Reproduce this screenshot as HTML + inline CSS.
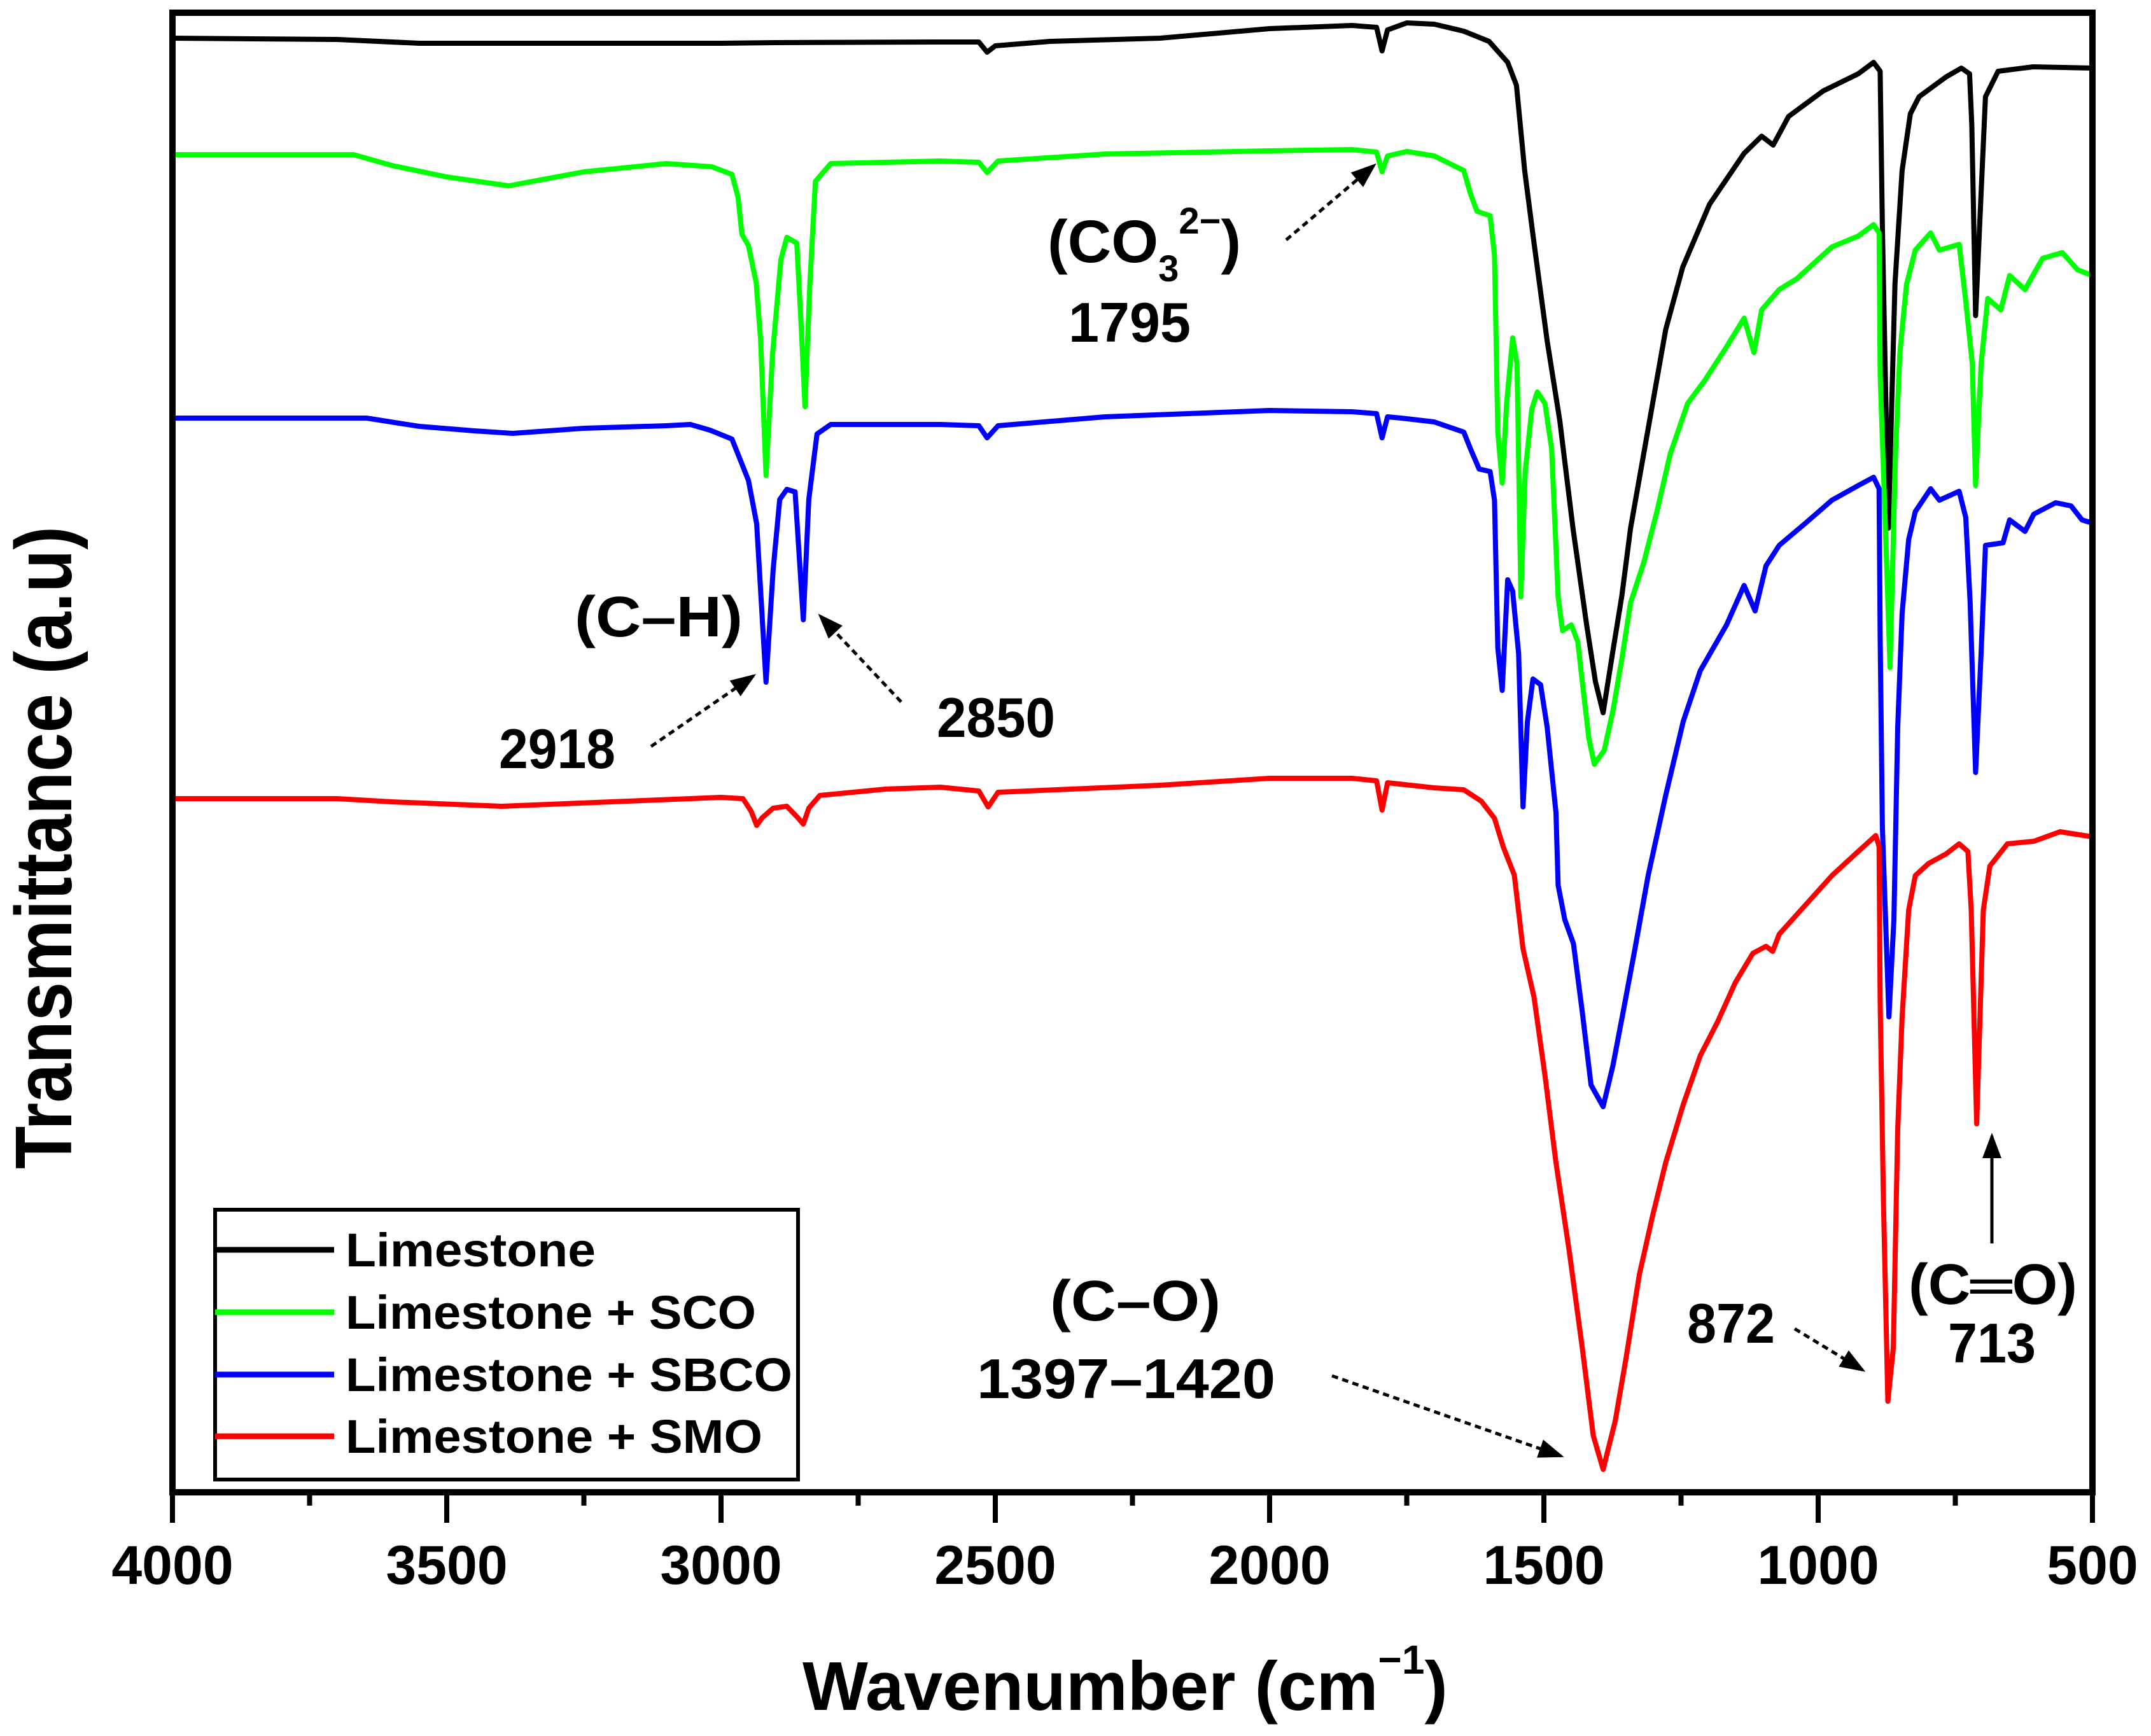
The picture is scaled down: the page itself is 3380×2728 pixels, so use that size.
<!DOCTYPE html>
<html><head><meta charset="utf-8"><style>
html,body{margin:0;padding:0;background:#fff;}
svg{display:block;}
text{font-family:"Liberation Sans",Arial,sans-serif;font-weight:bold;fill:#000;}
</style></head><body>
<svg id="chart" width="3380" height="2728" viewBox="0 0 3380 2728" xmlns="http://www.w3.org/2000/svg">
<defs>
<marker id="ah" markerWidth="8" markerHeight="6" refX="7" refY="3" orient="auto" markerUnits="strokeWidth"><path d="M0,0 L8,3 L0,6 Z" fill="#000"/></marker>
</defs>
<g id="series"></g>
<g id="axes"></g>
<g>
<text x="1646" y="412" font-size="95">(CO<tspan font-size="58" dy="30">3</tspan><tspan font-size="58" dy="-75">2−</tspan><tspan dy="45">)</tspan></text>
<text x="1679" y="537" font-size="88" textLength="192" lengthAdjust="spacingAndGlyphs">1795</text>
<line x1="2021" y1="377" x2="2159" y2="260" stroke="#000" stroke-width="5" stroke-dasharray="10,7" marker-end="url(#ah)"/>
<text x="903" y="1000" font-size="90" textLength="264" lengthAdjust="spacingAndGlyphs">(C–H)</text>
<text x="784" y="1207" font-size="88" textLength="183" lengthAdjust="spacingAndGlyphs">2918</text>
<line x1="1023" y1="1173" x2="1184" y2="1062" stroke="#000" stroke-width="5" stroke-dasharray="10,7" marker-end="url(#ah)"/>
<text x="1472" y="1158" font-size="88" textLength="186" lengthAdjust="spacingAndGlyphs">2850</text>
<line x1="1416" y1="1103" x2="1289" y2="968" stroke="#000" stroke-width="5" stroke-dasharray="10,7" marker-end="url(#ah)"/>
<text x="1650" y="2075" font-size="90" textLength="268" lengthAdjust="spacingAndGlyphs">(C–O)</text>
<text x="1535" y="2197" font-size="88" textLength="469" lengthAdjust="spacingAndGlyphs">1397–1420</text>
<line x1="2093" y1="2162" x2="2453" y2="2288" stroke="#000" stroke-width="5" stroke-dasharray="10,7" marker-end="url(#ah)"/>
<text x="2651" y="2110" font-size="88" textLength="138" lengthAdjust="spacingAndGlyphs">872</text>
<line x1="2820" y1="2088" x2="2927" y2="2153" stroke="#000" stroke-width="5" stroke-dasharray="10,7" marker-end="url(#ah)"/>
<text x="2999" y="2049" font-size="90" textLength="265" lengthAdjust="spacingAndGlyphs">(C═O)</text>
<text x="3061" y="2141" font-size="88" textLength="138" lengthAdjust="spacingAndGlyphs">713</text>
<line x1="3130" y1="1954" x2="3130" y2="1785" stroke="#000" stroke-width="5" marker-end="url(#ah)"/>
</g>
<g>
<rect x="338" y="1901" width="916" height="424" fill="#fff" stroke="#000" stroke-width="6"/>
<line x1="338" y1="1964" x2="525" y2="1964" stroke="#000" stroke-width="9"/>
<text x="543" y="1990" font-size="74" textLength="393" lengthAdjust="spacingAndGlyphs">Limestone</text>
<line x1="338" y1="2062" x2="525" y2="2062" stroke="#00ff00" stroke-width="9"/>
<text x="543" y="2088" font-size="74" textLength="645" lengthAdjust="spacingAndGlyphs">Limestone + SCO</text>
<line x1="338" y1="2160" x2="525" y2="2160" stroke="#0000ff" stroke-width="9"/>
<text x="543" y="2186" font-size="74" textLength="702" lengthAdjust="spacingAndGlyphs">Limestone + SBCO</text>
<line x1="338" y1="2257" x2="525" y2="2257" stroke="#ff0000" stroke-width="9"/>
<text x="543" y="2283" font-size="74" textLength="655" lengthAdjust="spacingAndGlyphs">Limestone + SMO</text>
</g>
<text x="1261" y="2687" font-size="109">Wavenumber (cm<tspan font-size="64" dy="-57">−1</tspan><tspan dy="57">)</tspan></text>
<text transform="translate(112,1332) rotate(-90)" text-anchor="middle" font-size="126" textLength="1010" lengthAdjust="spacingAndGlyphs">Transmittance (a.u)</text>
</svg>
<script>
const xTicks = [4000, 3500, 3000, 2500, 2000, 1500, 1000, 500];
const xMinorTicks = [3750, 3250, 2750, 2250, 1750, 1250, 750];
const seriesNames = ["Limestone", "Limestone + SCO", "Limestone + SBCO", "Limestone + SMO"];
const seriesColors = ["#000000", "#00ff00", "#0000ff", "#ff0000"];
const limestone = [[4000,2285],[3700,2283],[3550,2277],[3000,2277],[2900,2278],[2600,2279],[2530,2279],[2515,2263],[2500,2273],[2400,2280],[2200,2285],[2000,2300],[1850,2305],[1805,2302],[1795,2265],[1785,2298],[1750,2309],[1700,2307],[1646,2296],[1600,2280],[1566,2247],[1550,2211],[1535,2077],[1519,1970],[1494,1809],[1471,1684],[1447,1515],[1422,1363],[1406,1274],[1392,1225],[1375,1318],[1358,1408],[1342,1515],[1311,1666],[1278,1827],[1247,1925],[1198,2024],[1135,2104],[1103,2131],[1082,2117],[1054,2162],[991,2202],[927,2229],[899,2247],[887,2233],[883,1988],[872,1515],[860,1899],[847,2077],[832,2166],[816,2193],[767,2224],[739,2238],[724,2229],[720,2149],[713,1849],[703,2041],[695,2193],[672,2233],[608,2240],[500,2238]];
const limestoneSCO = [[4000,2102],[3670,2102],[3600,2085],[3500,2067],[3387,2053],[3250,2075],[3100,2088],[3017,2083],[2980,2071],[2969,2035],[2962,1977],[2950,1959],[2936,1901],[2928,1812],[2918,1598],[2906,1789],[2891,1937],[2880,1972],[2862,1963],[2854,1834],[2847,1706],[2838,1900],[2828,2060],[2800,2088],[2600,2092],[2530,2090],[2515,2074],[2495,2092],[2300,2103],[2000,2108],[1850,2110],[1805,2106],[1795,2075],[1785,2100],[1750,2107],[1700,2100],[1646,2077],[1634,2041],[1622,2013],[1598,2006],[1590,1943],[1584,1666],[1576,1586],[1568,1711],[1557,1814],[1549,1773],[1542,1407],[1534,1604],[1522,1702],[1512,1729],[1498,1711],[1486,1640],[1474,1407],[1466,1354],[1450,1363],[1438,1336],[1430,1274],[1418,1184],[1408,1144],[1390,1166],[1374,1229],[1358,1309],[1342,1398],[1318,1461],[1294,1541],[1270,1631],[1238,1711],[1207,1747],[1167,1800],[1135,1845],[1117,1791],[1103,1858],[1071,1890],[1039,1907],[975,1957],[927,1974],[899,1992],[889,1979],[887,1756],[875,1452],[869,1296],[859,1631],[851,1791],[839,1898],[823,1952],[795,1979],[779,1952],[743,1961],[731,1872],[719,1773],[713,1582],[703,1773],[691,1876],[667,1858],[651,1912],[623,1890],[591,1939],[555,1948],[527,1921],[500,1912]];
const limestoneSBCO = [[4000,1688],[3646,1688],[3550,1675],[3450,1668],[3380,1664],[3250,1672],[3100,1676],[3056,1678],[3020,1669],[2980,1655],[2968,1629],[2950,1590],[2935,1522],[2918,1273],[2905,1450],[2893,1560],[2880,1576],[2865,1572],[2850,1371],[2840,1560],[2825,1663],[2800,1678],[2600,1678],[2530,1676],[2515,1657],[2495,1676],[2300,1690],[2000,1700],[1850,1698],[1805,1695],[1795,1657],[1785,1690],[1760,1688],[1700,1682],[1646,1666],[1634,1640],[1618,1608],[1598,1604],[1590,1559],[1584,1327],[1576,1260],[1566,1434],[1557,1416],[1546,1318],[1538,1077],[1530,1211],[1520,1278],[1506,1269],[1494,1202],[1478,1068],[1474,954],[1462,900],[1446,862],[1430,755],[1414,640],[1392,606],[1374,671],[1354,762],[1334,854],[1310,969],[1278,1095],[1246,1211],[1215,1291],[1167,1363],[1135,1425],[1115,1385],[1095,1456],[1071,1488],[1023,1523],[975,1559],[927,1582],[899,1595],[889,1577],[887,1345],[883,1045],[871,747],[862,900],[855,1202],[847,1381],[835,1497],[823,1541],[795,1577],[779,1559],[743,1573],[731,1532],[723,1398],[713,1131],[703,1318],[695,1488],[663,1492],[651,1528],[623,1510],[607,1537],[567,1555],[539,1550],[519,1528],[500,1523]];
const limestoneSMO = [[4000,1090],[3700,1090],[3600,1085],[3400,1078],[3200,1085],[3000,1092],[2960,1090],[2945,1070],[2935,1048],[2925,1060],[2905,1075],[2880,1078],[2860,1060],[2850,1050],[2840,1075],[2820,1095],[2700,1105],[2600,1108],[2530,1102],[2513,1077],[2495,1100],[2200,1111],[2000,1122],[1850,1122],[1805,1118],[1795,1072],[1785,1115],[1700,1107],[1646,1104],[1614,1086],[1590,1059],[1574,1014],[1554,970],[1538,854],[1518,778],[1498,655],[1478,518],[1454,380],[1430,227],[1410,89],[1392,36],[1370,112],[1350,212],[1326,342],[1302,434],[1278,518],[1246,609],[1215,686],[1183,740],[1151,801],[1119,847],[1095,858],[1083,850],[1071,877],[1023,923],[975,969],[927,1007],[895,1032],[889,1015],[887,770],[881,456],[873,143],[863,227],[855,571],[847,747],[835,915],[823,969],[799,988],[767,1003],[743,1019],[727,1007],[721,915],[711,579],[699,915],[687,984],[655,1019],[607,1023],[559,1038],[500,1030]];

const NS = "http://www.w3.org/2000/svg";
const X0 = 271, X1 = 3288, YB = 2345, YT = 20;
function xScale(w){ return X0 + (4000 - w) / 3500 * (X1 - X0); }
function yScale(v){ return YB - v / 2325 * (YB - YT); }

const sg = document.getElementById('series');
const allSeries = [limestone, limestoneSCO, limestoneSBCO, limestoneSMO];
const seriesKeys = ['limestone', 'sco', 'sbco', 'smo'];
allSeries.forEach(function(s, i){
  const p = document.createElementNS(NS, 'polyline');
  p.setAttribute('points', s.map(function(d){ return xScale(d[0]).toFixed(1) + ',' + yScale(d[1]).toFixed(1); }).join(' '));
  p.setAttribute('fill', 'none');
  p.setAttribute('stroke', seriesColors[i]);
  p.setAttribute('stroke-width', '8');
  p.setAttribute('stroke-linejoin', 'round');
  
  
  sg.appendChild(p);
});

const ag = document.getElementById('axes');
const frame = document.createElementNS(NS, 'rect');
frame.setAttribute('x', X0); frame.setAttribute('y', YT);
frame.setAttribute('width', X1 - X0); frame.setAttribute('height', YB - YT);
frame.setAttribute('fill', 'none'); frame.setAttribute('stroke', '#000'); frame.setAttribute('stroke-width', '10');


ag.appendChild(frame);
xTicks.forEach(function(t){
  const l = document.createElementNS(NS, 'line');
  const x = xScale(t);
  l.setAttribute('x1', x); l.setAttribute('x2', x); l.setAttribute('y1', YB); l.setAttribute('y2', 2393);
  l.setAttribute('stroke', '#000'); l.setAttribute('stroke-width', '8');
  
  
  ag.appendChild(l);
  const tx = document.createElementNS(NS, 'text');
  tx.setAttribute('x', x); tx.setAttribute('y', 2489);
  tx.setAttribute('text-anchor', 'middle'); tx.setAttribute('font-size', '86');
  tx.textContent = String(t);
  
  
  ag.appendChild(tx);
});
xMinorTicks.forEach(function(t){
  const l = document.createElementNS(NS, 'line');
  const x = xScale(t);
  l.setAttribute('x1', x); l.setAttribute('x2', x); l.setAttribute('y1', YB); l.setAttribute('y2', 2366);
  l.setAttribute('stroke', '#000'); l.setAttribute('stroke-width', '8');
  
  
  ag.appendChild(l);
});
</script>
</body></html>
